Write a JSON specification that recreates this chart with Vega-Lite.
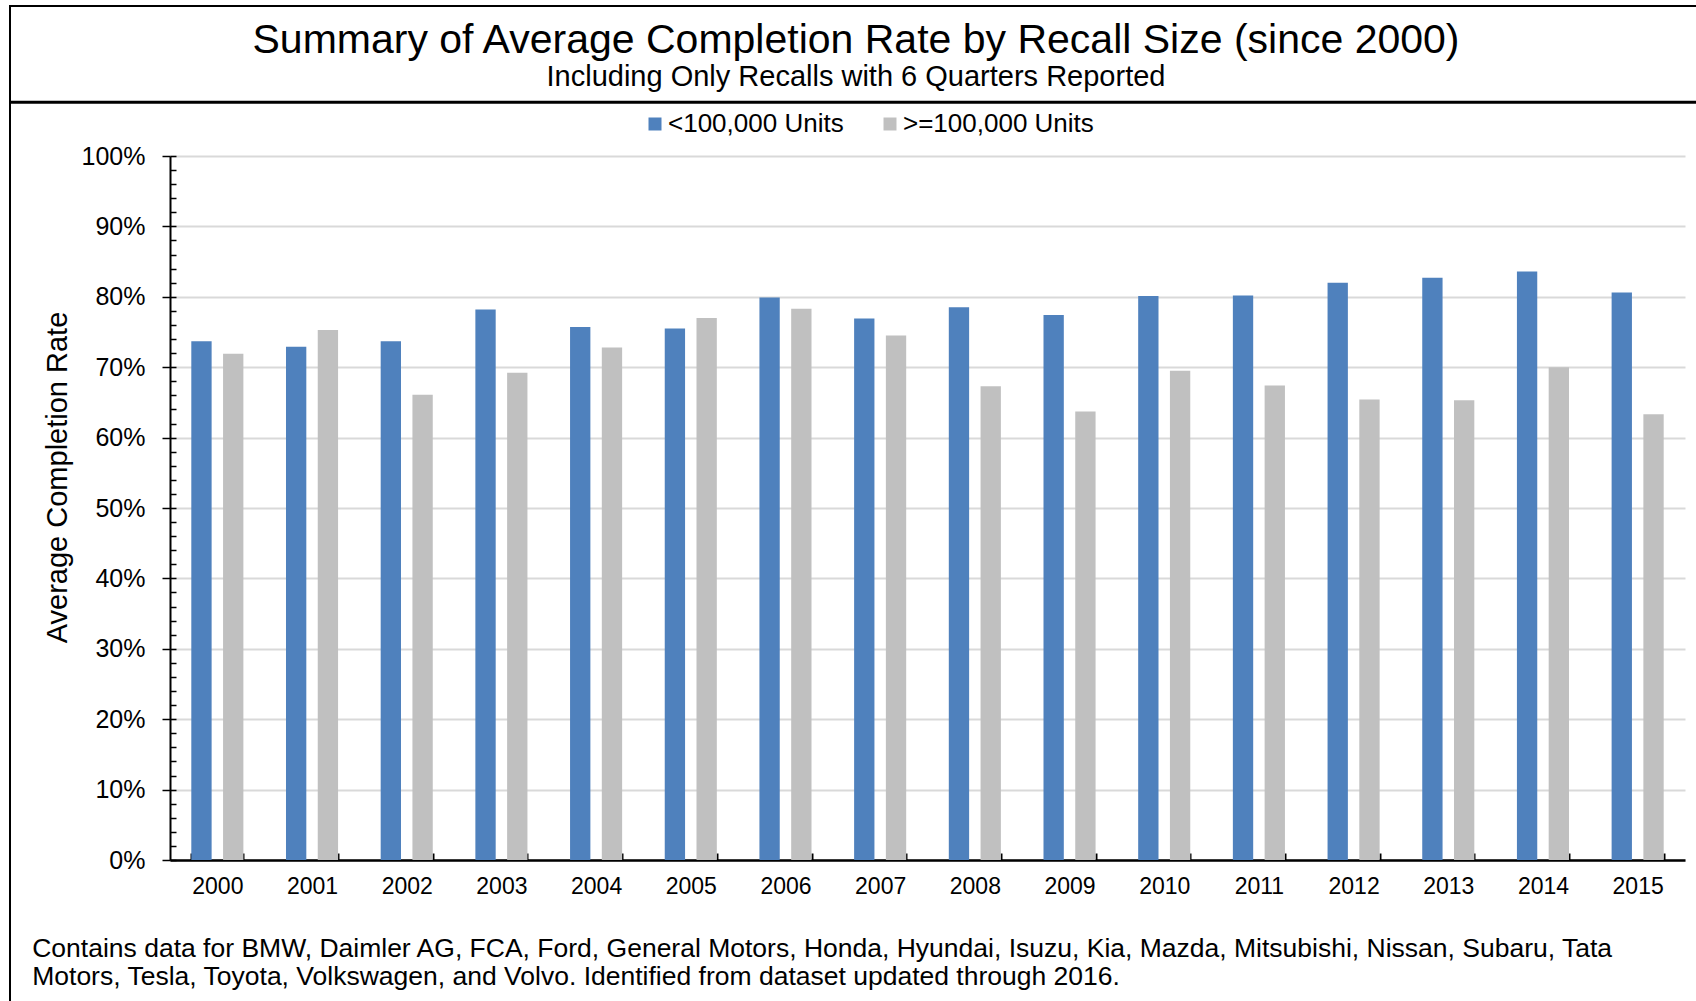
{
  "$schema": "https://vega.github.io/schema/vega-lite/v6.json",
  "autosize": {"type": "none"},
  "padding": {"left": 10, "top": 6, "right": 0, "bottom": 0},
  "width": 1686,
  "height": 995,
  "background": "white",
  "config": {
    "font": "Liberation Sans",
    "view": {"stroke": "black", "strokeWidth": 2, "strokeDash": [1686, 2681, 995]}
  },
  "data": {
    "values": [
      {"year": "2000", "size": "<100,000 Units", "rate": 0.737},
      {"year": "2000", "size": ">=100,000 Units", "rate": 0.719},
      {"year": "2001", "size": "<100,000 Units", "rate": 0.729},
      {"year": "2001", "size": ">=100,000 Units", "rate": 0.753},
      {"year": "2002", "size": "<100,000 Units", "rate": 0.737},
      {"year": "2002", "size": ">=100,000 Units", "rate": 0.661},
      {"year": "2003", "size": "<100,000 Units", "rate": 0.782},
      {"year": "2003", "size": ">=100,000 Units", "rate": 0.692},
      {"year": "2004", "size": "<100,000 Units", "rate": 0.757},
      {"year": "2004", "size": ">=100,000 Units", "rate": 0.728},
      {"year": "2005", "size": "<100,000 Units", "rate": 0.755},
      {"year": "2005", "size": ">=100,000 Units", "rate": 0.770},
      {"year": "2006", "size": "<100,000 Units", "rate": 0.799},
      {"year": "2006", "size": ">=100,000 Units", "rate": 0.783},
      {"year": "2007", "size": "<100,000 Units", "rate": 0.769},
      {"year": "2007", "size": ">=100,000 Units", "rate": 0.745},
      {"year": "2008", "size": "<100,000 Units", "rate": 0.785},
      {"year": "2008", "size": ">=100,000 Units", "rate": 0.673},
      {"year": "2009", "size": "<100,000 Units", "rate": 0.774},
      {"year": "2009", "size": ">=100,000 Units", "rate": 0.637},
      {"year": "2010", "size": "<100,000 Units", "rate": 0.801},
      {"year": "2010", "size": ">=100,000 Units", "rate": 0.695},
      {"year": "2011", "size": "<100,000 Units", "rate": 0.802},
      {"year": "2011", "size": ">=100,000 Units", "rate": 0.674},
      {"year": "2012", "size": "<100,000 Units", "rate": 0.820},
      {"year": "2012", "size": ">=100,000 Units", "rate": 0.654},
      {"year": "2013", "size": "<100,000 Units", "rate": 0.827},
      {"year": "2013", "size": ">=100,000 Units", "rate": 0.653},
      {"year": "2014", "size": "<100,000 Units", "rate": 0.836},
      {"year": "2014", "size": ">=100,000 Units", "rate": 0.700},
      {"year": "2015", "size": "<100,000 Units", "rate": 0.806},
      {"year": "2015", "size": ">=100,000 Units", "rate": 0.633}
    ]
  },
  "layer": [
    {
      "mark": {"type": "bar"},
      "encoding": {
        "x": {
          "field": "year", "type": "nominal",
          "scale": {"range": [160, 1675], "paddingInner": 0.45, "paddingOuter": 0.225},
          "axis": {
            "orient": "bottom", "offset": -141,
            "tickBand": "extent", "tickSize": -7, "tickColor": "black", "tickWidth": 2,
            "domainColor": "black", "domainWidth": 2.5,
            "labelFontSize": 23, "labelColor": "black", "labelPadding": 22, "labelAngle": 0,
            "grid": false,
            "title": [
              "Contains data for BMW, Daimler AG, FCA, Ford, General Motors, Honda, Hyundai, Isuzu, Kia, Mazda, Mitsubishi, Nissan, Subaru, Tata",
              "Motors, Tesla, Toyota, Volkswagen, and Volvo. Identified from dataset updated through 2016."
            ],
            "titleFontSize": 26.5, "titleFontWeight": "normal", "titleColor": "black",
            "titleX": 21.7, "titleY": 96.7, "titleAlign": "left", "titleAnchor": "start",
            "titleBaseline": "alphabetic", "titleLineHeight": 28.3, "titleAngle": 0
          }
        },
        "xOffset": {
          "field": "size", "type": "nominal",
          "scale": {"domain": ["<100,000 Units", ">=100,000 Units"], "paddingInner": 0.36, "paddingOuter": 0}
        },
        "y": {
          "field": "rate", "type": "quantitative",
          "scale": {"domain": [0, 1], "range": [854, 150], "nice": false},
          "axis": {
            "orient": "left", "offset": -160,
            "values": [0, 0.1, 0.2, 0.3, 0.4, 0.5, 0.6, 0.7, 0.8, 0.9, 1.0],
            "format": ".0%",
            "labelFontSize": 25, "labelColor": "black", "labelPadding": 17,
            "tickSize": 8, "tickColor": "black", "tickWidth": 1.5,
            "domainColor": "black", "domainWidth": 2,
            "grid": true, "gridColor": "#D9D9D9", "gridWidth": 2,
            "title": "Average Completion Rate",
            "titleFontSize": 29, "titleFontWeight": "normal", "titleColor": "black",
            "titleX": -104, "titleY": 471, "titleAngle": -90,
            "titleAlign": "center", "titleBaseline": "alphabetic"
          }
        },
        "color": {
          "field": "size", "type": "nominal",
          "scale": {"domain": ["<100,000 Units", ">=100,000 Units"], "range": ["#4F81BD", "#C0C0C0"]},
          "legend": {
            "orient": "none", "legendX": 632, "legendY": 105,
            "direction": "horizontal", "title": null,
            "labelFontSize": 26, "labelColor": "black", "labelLimit": 400,
            "symbolType": "square", "symbolSize": 169, "symbolStrokeWidth": 0,
            "labelOffset": 0, "columnPadding": 33, "padding": 0
          }
        }
      }
    },
    {
      "mark": {"type": "bar", "opacity": 0},
      "encoding": {
        "x": {
          "field": "year", "type": "nominal",
          "axis": {
            "orient": "top", "offset": -95.7,
            "domain": true, "domainColor": "black", "domainWidth": 3,
            "ticks": false, "labels": false, "grid": false,
            "title": "Summary of Average Completion Rate by Recall Size (since 2000)",
            "titleFontSize": 41, "titleFontWeight": "normal", "titleColor": "black",
            "titleX": 845.5, "titleY": -49, "titleAngle": 0,
            "titleAlign": "center", "titleBaseline": "alphabetic"
          }
        },
        "y": {
          "field": "rate", "type": "quantitative",
          "axis": {
            "orient": "left", "offset": -160,
            "values": [0, 0.02, 0.04, 0.06, 0.08, 0.1, 0.12, 0.14, 0.16, 0.18, 0.2, 0.22, 0.24, 0.26, 0.28, 0.3, 0.32, 0.34, 0.36, 0.38, 0.4, 0.42, 0.44, 0.46, 0.48, 0.5, 0.52, 0.54, 0.56, 0.58, 0.6, 0.62, 0.64, 0.66, 0.68, 0.7, 0.72, 0.74, 0.76, 0.78, 0.8, 0.82, 0.84, 0.86, 0.88, 0.9, 0.92, 0.94, 0.96, 0.98, 1.0],
            "tickSize": -6, "tickColor": "black", "tickWidth": 1.5,
            "labels": false, "domain": false, "grid": false,
            "title": "Including Only Recalls with 6 Quarters Reported",
            "titleFontSize": 29, "titleFontWeight": "normal", "titleColor": "black",
            "titleX": 685.5, "titleY": 79, "titleAngle": 0,
            "titleAlign": "center", "titleBaseline": "alphabetic"
          }
        }
      }
    }
  ],
  "resolve": {
    "scale": {"x": "independent"},
    "axis": {"x": "independent", "y": "independent"}
  }
}
